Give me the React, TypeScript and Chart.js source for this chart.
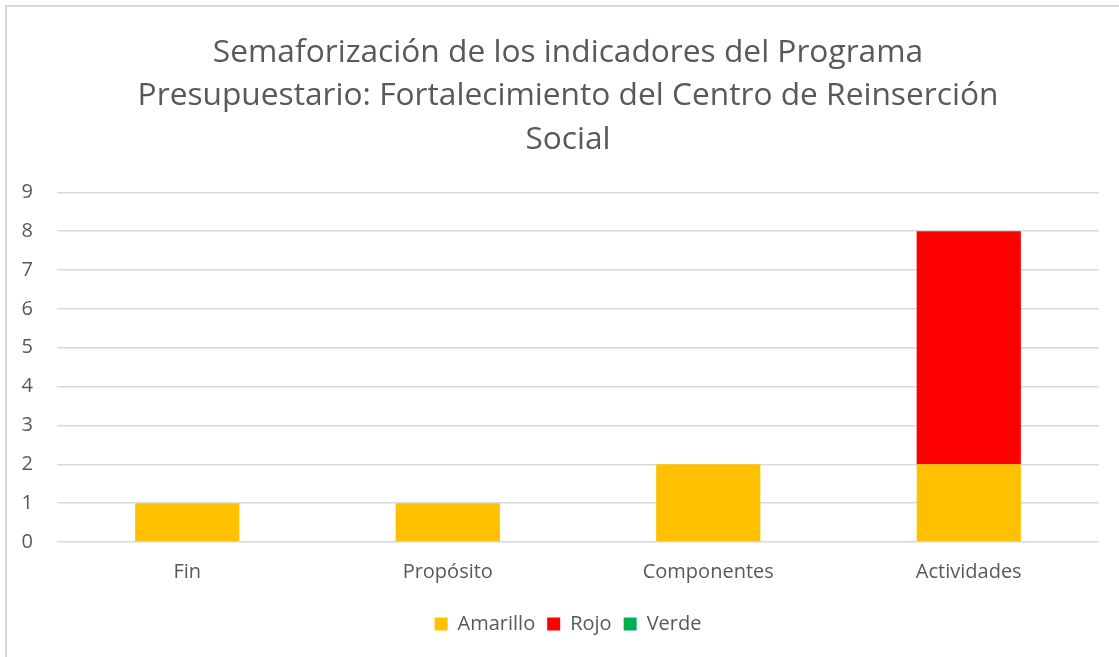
import React, { useEffect, useRef } from "react";
import { Chart, registerables } from "chart.js";

Chart.register(...registerables);

const categories = ["Fin", "Propósito", "Componentes", "Actividades"];
const amarillo = [1, 1, 2, 2];
const rojo = [0, 0, 0, 6];
const verde = [0, 0, 0, 0];
const titleLines = [
  "Semaforización de los indicadores del Programa",
  "Presupuestario: Fortalecimiento del Centro de Reinserción",
  "Social",
];

const FONT = "'Open Sans', sans-serif";
const TEXT = "#595959";
const CANVAS_W = 1156;
const CANVAS_H = 657;

export default function App() {
  const ref = useRef<HTMLCanvasElement | null>(null);

  useEffect(() => {
    if (!ref.current) return;
    const chart = new Chart(ref.current, {
      type: "bar",
      data: {
        labels: categories,
        datasets: [
          { label: "Amarillo", data: amarillo, backgroundColor: "#FFC000", borderWidth: 0 },
          { label: "Rojo", data: rojo, backgroundColor: "#FF0000", borderWidth: 0 },
          { label: "Verde", data: verde, backgroundColor: "#00B050", borderWidth: 0 },
        ],
      },
      options: {
        responsive: false,
        animation: false,
        maintainAspectRatio: false,
        layout: { padding: { top: 0, left: 0, right: 20, bottom: 13 } },
        datasets: { bar: { categoryPercentage: 1, barPercentage: 0.4 } },
        plugins: {
          tooltip: { enabled: false },
          title: {
            display: true,
            text: titleLines,
            color: TEXT,
            font: { family: FONT, size: 31.7, weight: "normal", lineHeight: 1.37 },
            padding: { top: 31, bottom: 31 },
          },
          legend: {
            position: "bottom",
            labels: {
              boxWidth: 13,
              boxHeight: 13,
              padding: 12,
              color: TEXT,
              font: { family: FONT, size: 20 },
            },
          },
        },
        scales: {
          x: {
            stacked: true,
            grid: { display: false, drawTicks: false },
            border: { display: false },
            ticks: { color: TEXT, font: { family: FONT, size: 20 }, padding: 18, maxRotation: 0 },
            afterFit: (s: any) => {
              s.height = 60;
            },
          },
          y: {
            stacked: true,
            min: 0,
            max: 9,
            grid: { color: "#d9d9d9", lineWidth: 1.5, drawTicks: false },
            border: { display: false },
            ticks: { stepSize: 1, color: TEXT, font: { family: FONT, size: 20 }, padding: 24 },
            afterFit: (s: any) => {
              s.width = 57;
            },
          },
          spacer: {
            type: "linear",
            position: "right",
            display: true,
            grid: { display: false, drawTicks: false },
            border: { display: false },
            ticks: { display: false },
            afterFit: (s: any) => {
              s.width = 37;
            },
          },
        },
      },
    });
    return () => chart.destroy();
  }, []);

  return (
    <div
      style={{
        position: "fixed",
        left: 0,
        top: 0,
        width: 1119,
        height: 657,
        overflow: "hidden",
        background: "#fff",
      }}
    >
      <div
        style={{
          position: "absolute",
          left: 5,
          top: 5,
          width: 1300,
          height: 800,
          border: "2px solid #d9d9d9",
        }}
      />
      <canvas
        ref={ref}
        width={CANVAS_W}
        height={CANVAS_H}
        style={{ position: "absolute", left: 0, top: 0, width: CANVAS_W, height: CANVAS_H }}
      />
    </div>
  );
}
